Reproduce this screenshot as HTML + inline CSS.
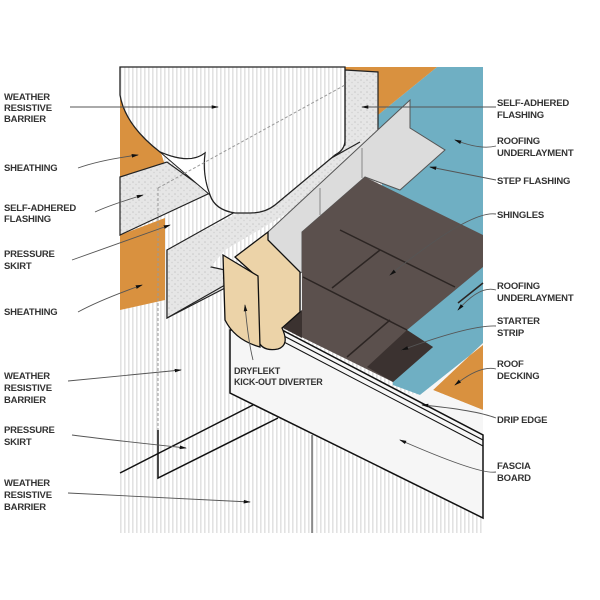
<!DOCTYPE html>
<html><head><meta charset="utf-8"><style>
html,body{margin:0;padding:0;background:#fff}
svg{display:block}
text{font-family:"Liberation Sans",sans-serif;font-size:9.5px;fill:#333;font-weight:bold;letter-spacing:-0.2px}
</style></head><body>
<svg width="600" height="600" viewBox="0 0 600 600">
<defs>
<pattern id="st" width="4" height="4" patternUnits="userSpaceOnUse"><rect width="4" height="4" fill="#fff"/><rect x="0" width="1.6" height="4" fill="#e2e2e2"/></pattern>
<pattern id="sp" width="6" height="6" patternUnits="userSpaceOnUse"><rect width="6" height="6" fill="#e6e6e6"/><circle cx="1" cy="2" r="0.8" fill="#c8c8c8"/><circle cx="4" cy="4.5" r="0.7" fill="#d0d0d0"/></pattern>
<marker id="a" markerWidth="8" markerHeight="6" refX="7" refY="3" orient="auto"><path d="M0,1 L8,3 L0,5z" fill="#111"/></marker>
</defs>
<!-- wall -->
<rect x="120" y="67" width="363" height="466" fill="url(#st)"/>
<!-- wood left -->
<polygon points="120,95 160,150 165,165 120,178" fill="#d9913f"/>
<polygon points="120,235 165,218 165,300 120,310" fill="#d9913f"/>
<!-- blue -->
<polygon points="378,115 437,67 483,67 483,345 420,395 393,385" fill="#6fafc3"/>
<!-- wood top right -->
<polygon points="345,67 437,67 378,115 378,72 345,95" fill="#d9913f"/>
<!-- wood decking -->
<polygon points="433,390 483,343 483,410" fill="#d9913f"/>
<!-- white strip above drip edge -->
<polygon points="420,395 483,345 483,343 433,390 483,410 483,435 400,392" fill="#f6f6f6"/>
<!-- left flashing -->
<polygon points="120,177 167,162 210,193 120,235" fill="url(#sp)" stroke="#222" stroke-width="1.2"/>
<!-- flashing band -->
<polygon points="345,70 378,72 378,135 360,170 167,250 167,318 225,288 225,270 170,258 345,145" fill="url(#sp)" stroke="#222" stroke-width="1.2"/>
<polygon points="167,250 360,150 360,170 225,250 167,318" fill="url(#sp)"/>
<polyline points="167,250 167,318 225,285" fill="none" stroke="#222" stroke-width="1.2"/>
<polyline points="167,250 360,142" fill="none" stroke="#222" stroke-width="1.2"/>
<!-- step flashing -->
<polygon points="268,232 410,100 410,128 445,150 400,190 365,177 302,232 302,272 268,292" fill="#dcdcdc" stroke="#555" stroke-width="1"/>
<line x1="320" y1="215" x2="320" y2="188" stroke="#888"/>
<line x1="362" y1="178" x2="362" y2="148" stroke="#888"/>
<!-- white flap -->
<path d="M120,67 L345,67 L345,140 Q345,150 335,155 L275,205 Q265,213 250,213 L235,213 Q215,210 210,195 Q202,175 205,153 Q190,165 160,152 Q125,125 120,95 Z" fill="url(#st)" stroke="#222" stroke-width="1.3"/>
<path d="M160,152 Q190,165 205,153 Q202,175 210,195 Z" fill="#fff" stroke="#222" stroke-width="1"/>
<line x1="158" y1="188" x2="158" y2="430" stroke="#999" stroke-dasharray="3,2"/>
<line x1="158" y1="188" x2="345" y2="85" stroke="#999" stroke-dasharray="3,2"/>
<!-- shingles -->
<polygon points="302,232 365,177 483,235 483,267 407,330 433,347 393,382 283,328 302,310" fill="#5b504d"/>
<polygon points="367,367 407,330 433,347 393,382" fill="#3b3230"/>
<polygon points="283,328 302,310 302,338" fill="#3b3230"/>
<g stroke="#2c2523" stroke-width="1.5" fill="none">
<line x1="303" y1="277" x2="407" y2="330"/>
<line x1="340" y1="230" x2="455" y2="287"/>
<line x1="380" y1="250" x2="332" y2="288"/>
<line x1="390" y1="320" x2="347" y2="357"/>
<line x1="483" y1="283" x2="458" y2="303"/>
</g>
<!-- fascia -->
<polygon points="230,330 282,330 483,435 483,518 230,393" fill="#f6f6f6" stroke="#111" stroke-width="1.5"/>
<line x1="282" y1="335" x2="483" y2="440" stroke="#111" stroke-width="1.2"/>
<line x1="282" y1="341" x2="483" y2="446" stroke="#111" stroke-width="1"/>
<line x1="312" y1="435" x2="312" y2="533" stroke="#333" stroke-width="1"/>
<!-- lower pressure skirt -->
<polyline points="120,473 253,405" fill="none" stroke="#111" stroke-width="1.5"/>
<polyline points="158,430 158,478 278,418" fill="none" stroke="#111" stroke-width="1.5"/>
<!-- diverter -->
<path d="M235,257 L268,232 L268,240 L300,272 L300,312 L282,328 Q290,345 278,349 Q262,352 258,340 L255,275 Z" fill="#ecd3a8" stroke="#111" stroke-width="1.3"/>
<path d="M223,255 L258,276 L260,347 Q235,340 225,320 Z" fill="#ecd3a8" stroke="#111" stroke-width="1.3"/>
<!-- left labels -->
<g>
<text x="4" y="100">WEATHER</text><text x="4" y="111">RESISTIVE</text><text x="4" y="122">BARRIER</text>
<text x="4" y="171">SHEATHING</text>
<text x="4" y="211">SELF-ADHERED</text><text x="4" y="222">FLASHING</text>
<text x="4" y="257">PRESSURE</text><text x="4" y="269">SKIRT</text>
<text x="4" y="315">SHEATHING</text>
<text x="4" y="379">WEATHER</text><text x="4" y="391">RESISTIVE</text><text x="4" y="403">BARRIER</text>
<text x="4" y="433">PRESSURE</text><text x="4" y="445">SKIRT</text>
<text x="4" y="486">WEATHER</text><text x="4" y="498">RESISTIVE</text><text x="4" y="510">BARRIER</text>
</g>
<g>
<text x="497" y="106">SELF-ADHERED</text><text x="497" y="118">FLASHING</text>
<text x="497" y="144">ROOFING</text><text x="497" y="156">UNDERLAYMENT</text>
<text x="497" y="184">STEP FLASHING</text>
<text x="497" y="218">SHINGLES</text>
<text x="497" y="289">ROOFING</text><text x="497" y="301">UNDERLAYMENT</text>
<text x="497" y="324">STARTER</text><text x="497" y="336">STRIP</text>
<text x="497" y="367">ROOF</text><text x="497" y="379">DECKING</text>
<text x="497" y="423">DRIP EDGE</text>
<text x="497" y="469">FASCIA</text><text x="497" y="481">BOARD</text>
<text x="234" y="374" style="font-size:9px">DRYFLEKT</text><text x="234" y="385" style="font-size:9px">KICK-OUT DIVERTER</text>
</g>
<!-- leaders -->
<g stroke="#555" stroke-width="0.9" fill="none" marker-end="url(#a)">
<path d="M70,107 L218,107"/>
<path d="M78,168 Q100,160 138,155"/>
<path d="M95,212 Q110,205 143,195"/>
<path d="M72,260 Q100,250 170,225"/>
<path d="M78,312 Q100,300 142,285"/>
<path d="M68,381 L181,370"/>
<path d="M72,435 Q110,440 186,448"/>
<path d="M68,493 L250,502"/>
<path d="M496,107 L362,107"/>
<path d="M496,146 Q480,150 455,140"/>
<path d="M496,180 Q470,175 430,167"/>
<path d="M496,214 Q470,210 390,275"/>
<path d="M496,290 Q480,285 458,310"/>
<path d="M496,326 Q470,325 402,350"/>
<path d="M496,369 Q480,365 455,385"/>
<path d="M496,418 Q475,410 422,405"/>
<path d="M496,472 Q480,475 400,440"/>
<path d="M253,360 Q248,340 245,305"/>
</g>
</svg>
</body></html>
